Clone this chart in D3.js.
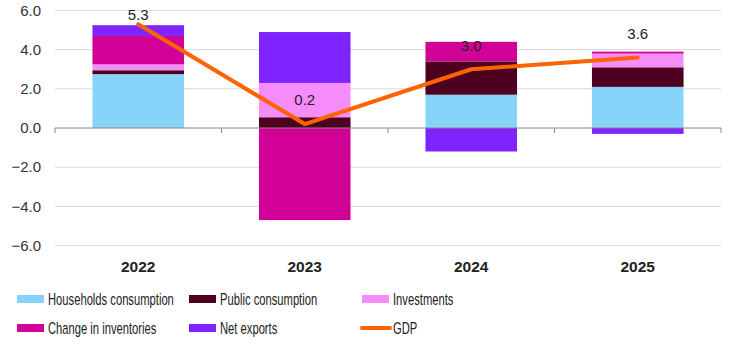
<!DOCTYPE html>
<html>
<head>
<meta charset="utf-8">
<script src="https://cdn.jsdelivr.net/npm/d3@7"></script>
<style>
  body { margin: 0; background: #fff; }
  svg text { font-family: "Liberation Sans", Arial, sans-serif; }
</style>
</head>
<body>
<div id="chart"></div>
<script>
// values
const years = ["2022", "2023", "2024", "2025"];
const households = [2.75, 0, 1.7, 2.1];
const publicCons = [0.2, 0.55, 1.7, 1.0];
const investments = [0.3, 1.75, 0, 0.7];
const inventories = [1.45, -4.7, 1.0, 0.1];
const netExports = [0.55, 2.6, -1.2, -0.3];
const gdp = [5.3, 0.2, 3.0, 3.6];
const yTicks = [-6, -4, -2, 0, 2, 4, 6];

const series = [
    {key: "households", name: "Households consumption", color: "#87D4FA", values: households},
    {key: "public", name: "Public consumption", color: "#4D0020", values: publicCons},
    {key: "investments", name: "Investments", color: "#F58CFA", values: investments},
    {key: "inventories", name: "Change in inventories", color: "#D10096", values: inventories},
    {key: "netExports", name: "Net exports", color: "#7F24FF", values: netExports}
];
const gdpColor = "#FF6200";

const width = 743, height = 344;
const margin = {top: 10.5, right: 22, bottom: 98.5, left: 55};

const svg = d3.select("#chart").append("svg")
    .attr("width", width)
    .attr("height", height);

const x = d3.scaleBand()
    .domain(years)
    .range([margin.left, width - margin.right])
    .paddingInner(0.45)
    .paddingOuter(0.225);

const y = d3.scaleLinear()
    .domain([-6, 6])
    .range([height - margin.bottom, margin.top]);

// gridlines
svg.append("g")
    .selectAll("line")
    .data(yTicks.filter(d => d !== 0))
    .enter().append("line")
        .attr("x1", margin.left)
        .attr("x2", width - margin.right)
        .attr("y1", d => y(d))
        .attr("y2", d => y(d))
        .attr("stroke", "#d9d9d9")
        .attr("stroke-width", 1);

// y labels
svg.append("g")
    .selectAll("text")
    .data(yTicks)
    .enter().append("text")
        .attr("x", 41)
        .attr("y", d => y(d))
        .attr("dy", "0.35em")
        .attr("text-anchor", "end")
        .attr("fill", "#333")
        .style("font-size", "15px")
        .text(d => d3.format(".1f")(d));

// stacked bars
const rows = years.map((yr, i) => {
    const r = {year: yr};
    series.forEach(s => r[s.key] = s.values[i]);
    return r;
});
const stacked = d3.stack()
    .keys(series.map(s => s.key))
    .offset(d3.stackOffsetDiverging)(rows);

svg.append("g")
    .selectAll("g")
    .data(stacked)
    .enter().append("g")
        .attr("fill", (d, i) => series[i].color)
    .selectAll("rect")
    .data(d => d)
    .enter().append("rect")
        .attr("x", d => x(d.data.year))
        .attr("width", x.bandwidth())
        .attr("y", d => y(Math.max(d[0], d[1])))
        .attr("height", d => Math.abs(y(d[0]) - y(d[1])));

// zero axis with category ticks
const zero = svg.append("g")
    .attr("transform", `translate(0, ${y(0)})`);
zero.append("line")
    .attr("x1", margin.left)
    .attr("x2", width - margin.right)
    .attr("stroke", "#888")
    .attr("stroke-width", 1);
const bounds = years.map(d => x(d) - x.step() * x.paddingInner() / 2)
    .concat([width - margin.right]);
zero.selectAll("line.tick")
    .data(bounds)
    .enter().append("line")
        .attr("class", "tick")
        .attr("x1", d => d)
        .attr("x2", d => d)
        .attr("y1", 0)
        .attr("y2", 5)
        .attr("stroke", "#888");

// x labels
svg.append("g")
    .selectAll("text")
    .data(years)
    .enter().append("text")
        .attr("x", d => x(d) + x.bandwidth() / 2)
        .attr("y", 267)
        .attr("dy", "0.35em")
        .attr("text-anchor", "middle")
        .attr("fill", "#222")
        .style("font-size", "15.5px")
        .style("font-weight", "bold")
        .text(d => d);

// GDP line
const line = d3.line()
    .x((d, i) => x(years[i]) + x.bandwidth() / 2)
    .y(d => y(d));

svg.append("path")
    .datum(gdp)
    .attr("fill", "none")
    .attr("stroke", gdpColor)
    .attr("stroke-width", 4)
    .attr("stroke-linecap", "round")
    .attr("stroke-linejoin", "round")
    .attr("d", line);

svg.append("g")
    .selectAll("text")
    .data(gdp)
    .enter().append("text")
        .attr("x", (d, i) => x(years[i]) + x.bandwidth() / 2)
        .attr("y", d => Math.max(y(d) - 24, 15))
        .attr("dy", "0.35em")
        .attr("text-anchor", "middle")
        .attr("fill", "#222")
        .style("font-size", "15px")
        .text(d => d3.format(".1f")(d));

// legend
const legendItems = series.map(s => ({name: s.name, color: s.color, type: "rect"}))
    .concat([{name: "GDP", color: gdpColor, type: "line"}]);
const colX = [17, 189, 362];
const rowY = [299, 328];

const legend = svg.append("g")
    .selectAll("g")
    .data(legendItems)
    .enter().append("g")
        .attr("transform", (d, i) => `translate(${colX[i % 3]}, ${rowY[Math.floor(i / 3)]})`);

legend.filter(d => d.type === "rect").append("rect")
    .attr("x", 0)
    .attr("y", -4)
    .attr("width", 27)
    .attr("height", 8)
    .attr("fill", d => d.color);

legend.filter(d => d.type === "line").append("line")
    .attr("x1", 0)
    .attr("x2", 28)
    .attr("stroke", d => d.color)
    .attr("stroke-width", 4)
    .attr("stroke-linecap", "round");

// the original face is very narrow, so squeeze the label horizontally
legend.append("text")
    .attr("transform", "translate(31, 0) scale(0.68, 1)")
    .attr("dy", "0.35em")
    .attr("fill", "#222")
    .style("font-size", "16.5px")
    .text(d => d.name);
</script>
</body>
</html>
